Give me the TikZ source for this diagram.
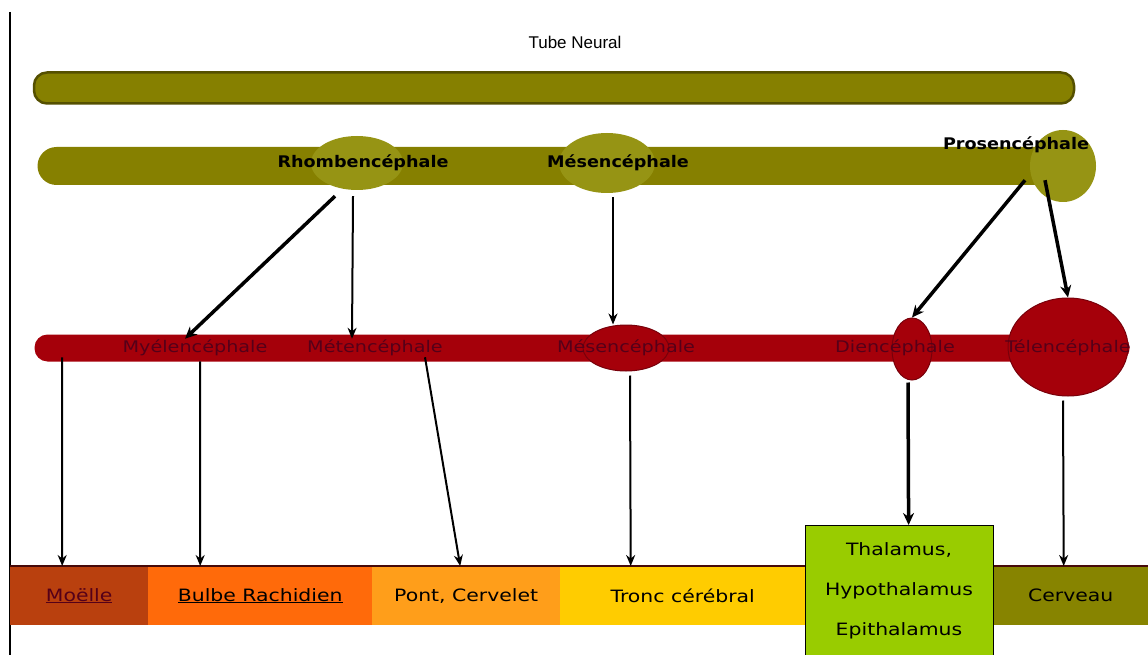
\documentclass[tikz,border=0pt]{standalone}
\usepackage{fontspec}
\setmainfont{Liberation Sans}
\newfontfamily\dvsw[FakeStretch=1.2]{DejaVu Sans}
\newfontfamily\dvsb[FakeStretch=1.1]{DejaVu Sans}
\usetikzlibrary{shapes.geometric,arrows.meta}
\definecolor{tubeolive}{RGB}{134,128,0}
\definecolor{tubedark}{RGB}{85,80,0}
\definecolor{lightolive}{RGB}{150,148,20}
\definecolor{barred}{RGB}{165,0,10}
\definecolor{bardark}{RGB}{120,0,10}
\definecolor{redlab}{RGB}{85,0,25}
\definecolor{moelle}{RGB}{185,64,14}
\definecolor{bulbe}{RGB}{255,106,10}
\definecolor{pont}{RGB}{255,158,26}
\definecolor{tronc}{RGB}{255,204,0}
\definecolor{thal}{RGB}{153,204,0}
\definecolor{cerveau}{RGB}{135,132,0}
\definecolor{topline}{RGB}{70,10,10}
\begin{document}
\begin{tikzpicture}[x=1pt,y=-1pt,
  lab/.style={font=\fontsize{17}{19}\selectfont, text=black, inner sep=1pt},
  olivelab/.style={font=\dvsb\bfseries\fontsize{16}{18}\selectfont, text=black, inner sep=1pt},
  oliveell/.style={ellipse, fill=lightolive, inner sep=0pt},
  redell/.style={ellipse, fill=barred, draw=bardark, line width=1pt, inner sep=0pt},
  redlabel/.style={font=\dvsw\fontsize{16}{18}\selectfont, text=redlab, inner sep=1pt},
  boxlab/.style={font=\dvsw\fontsize{17}{19}\selectfont, text=black},
  botbox/.style={rectangle, minimum height=59pt, inner sep=0pt, anchor=north west},
  thinarrow/.style={line width=2pt, -{Stealth[length=11pt,width=9pt]}},
  thickarrow/.style={line width=3.5pt, -{Stealth[length=12pt,width=11pt]}}]
\useasboundingbox (0,0) rectangle (1148,655);
\fill[white] (0,0) rectangle (1148,655);
\draw[line width=2pt] (10,12) -- (10,655);

% top
\node[lab] (tube) at (575,42) {Tube Neural};
\node[rectangle, rounded corners=13pt, fill=tubeolive, draw=tubedark, line width=2.5pt,
      minimum width=1040pt, minimum height=31pt, inner sep=0pt] (tubebar) at (554,88) {};

% second bar
\node[rectangle, rounded corners=19pt, fill=tubeolive, minimum width=1045pt,
      minimum height=38pt, inner sep=0pt] (bar2) at (560,166) {};
\node[oliveell, minimum width=92pt, minimum height=54pt] (rhombell) at (357,163) {};
\node[oliveell, minimum width=96pt, minimum height=60pt] (mesell) at (607,163) {};
\node[oliveell, minimum width=66pt, minimum height=72pt] (prosell) at (1063,166) {};
\node[olivelab] (rhomb) at (363,163) {Rhombencéphale};
\node[olivelab] (mes) at (618,163) {Mésencéphale};
\node[olivelab] (pros) at (1016,145) {Prosencéphale};

% red bar
\node[rectangle, rounded corners=13pt, fill=barred, minimum width=1095pt,
      minimum height=27pt, inner sep=0pt] (redbar) at (582,348) {};
\node[redell, minimum width=86pt, minimum height=46pt] (mesred) at (626,348) {};
\node[redell, minimum width=40pt, minimum height=62pt] (dienell) at (912,349) {};
\node[redell, minimum width=120pt, minimum height=98pt] (telell) at (1068,347) {};
\node[redlabel] (myel) at (195,348) {Myélencéphale};
\node[redlabel] (met) at (375,348) {Métencéphale};
\node[redlabel] (mesr) at (626,348) {Mésencéphale};
\node[redlabel] (dien) at (895,348) {Diencéphale};
\node[redlabel] (tel) at (1068,348) {Télencéphale};

% bottom boxes
\node[botbox, fill=moelle, minimum width=138pt] (bmoelle) at (10,566) {};
\node[botbox, fill=bulbe, minimum width=224pt] (bbulbe) at (148,566) {};
\node[botbox, fill=pont, minimum width=188pt] (bpont) at (372,566) {};
\node[botbox, fill=tronc, minimum width=245pt] (btronc) at (560,566) {};
\node[botbox, fill=cerveau, minimum width=155pt] (bcerv) at (993,566) {};
\draw[topline, line width=2pt] (bmoelle.north west) -- (btronc.north east);
\draw[topline, line width=2pt] (bcerv.north west) -- (bcerv.north east);
\node[rectangle, fill=thal, draw=black, line width=1.2pt, minimum width=188pt,
      minimum height=135pt, inner sep=0pt, anchor=north west] (bthal) at (805,525) {};
\node[boxlab, text=redlab] at (bmoelle.center) {\underline{Moëlle}};
\node[boxlab] at (bbulbe.center) {\underline{Bulbe Rachidien}};
\node[boxlab] at (bpont.center) {Pont, Cervelet};
\node[boxlab] at (btronc.center) {Tronc cérébral};
\node[boxlab] at (bcerv.center) {Cerveau};
\node[boxlab, align=center, font=\dvsw\fontsize{17}{40}\selectfont, anchor=north] at (899,539)
  {Thalamus,\\Hypothalamus\\Epithalamus};

% arrows from second bar
\draw[thickarrow] ([xshift=-22pt,yshift=-6pt]rhombell.south) -- ([xshift=-10pt]myel.north);
\draw[thinarrow] ([xshift=-4pt,yshift=-6pt]rhombell.south) -- ([xshift=-23pt]met.north);
\draw[thinarrow] ([xshift=6pt,yshift=-4pt]mesell.south) -- ([xshift=-13pt]mesred.north);
\draw[thickarrow] ([xshift=-38pt,yshift=22pt]prosell.south) -- (dienell.north);
\draw[thickarrow] ([xshift=-18pt,yshift=22pt]prosell.south) -- (telell.north);

% arrows to bottom boxes
\draw[thinarrow] ([xshift=-133pt]myel.south) -- ([xshift=-17pt]bmoelle.north);
\draw[thinarrow] ([xshift=5pt,yshift=-4pt]myel.south) -- ([xshift=-60pt]bbulbe.north);
\draw[thinarrow] ([xshift=50pt]met.south) -- ([xshift=-6pt]bpont.north);
\draw[thinarrow] ([xshift=4pt,yshift=-4pt]mesred.south) -- ([xshift=-52pt]btronc.north);
\draw[thickarrow] ([xshift=-4pt,yshift=-2pt]dienell.south) -- ([xshift=9pt]bthal.north);
\draw[thinarrow] ([xshift=-5pt,yshift=-4pt]telell.south) -- ([xshift=-7pt]bcerv.north);
\end{tikzpicture}
\end{document}
